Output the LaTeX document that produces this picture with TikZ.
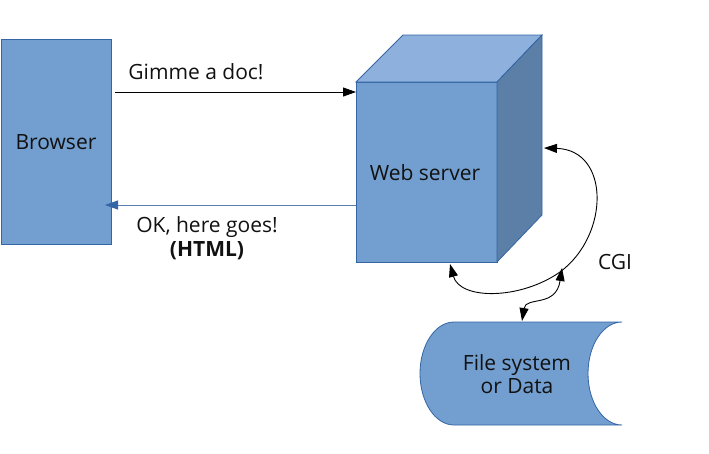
\documentclass[tikz,border=0pt]{standalone}
\usepackage{fontspec}
\setmainfont{Open Sans}
\usetikzlibrary{arrows.meta}
\definecolor{boxfill}{HTML}{729FCF}
\definecolor{topfill}{HTML}{8EB0DC}
\definecolor{sidefill}{HTML}{5B7FA6}
\definecolor{boxline}{HTML}{3465A4}
\definecolor{retline}{HTML}{5A7EB0}
\definecolor{txt}{HTML}{111111}
\begin{document}
\begin{tikzpicture}[x=1pt,y=-1pt,
  every node/.style={font=\fontsize{21}{25}\selectfont, text=txt},
  shapebox/.style={draw=boxline, line width=0.8pt, fill=boxfill},
  plain/.style={inner sep=0pt, outer sep=0pt},
  tip/.style={-{Triangle[length=13pt,width=9pt]}},
  tips/.style={{Triangle[length=13pt,width=9pt]}-{Triangle[length=13pt,width=9pt]}},
  conn/.style={line width=0.9pt, black}
]
\useasboundingbox (0,0) rectangle (709,453);
% Browser
\node[shapebox, plain, minimum width=110pt, minimum height=205pt, anchor=north west] (browser) at (1,39) {};
\node[plain] (browsertxt) at (56,142) {Browser};
% Web server cube
\node[shapebox, plain, minimum width=141pt, minimum height=180pt, anchor=north west] (server) at (356,82) {};
\draw[draw=boxline, line width=0.8pt, fill=topfill] (server.north west) -- ++(47,-47) -- ++(139,0) -- (server.north east) -- cycle;
\draw[draw=boxline, line width=0.8pt, fill=sidefill] (server.north east) -- ++(45,-47) -- ++(0,180) -- (server.south east) -- cycle;
\node[plain] (servertxt) at (425,173) {Web server};
% File system
\coordinate (fsnw) at (454,322);
\draw[shapebox] (fsnw) .. controls (435.2,322) and (420,345.1) .. (420,373.5)
  .. controls (420,401.9) and (435.2,425) .. (454,425) -- (622,425)
  .. controls (603.2,425) and (588,401.9) .. (588,373.5)
  .. controls (588,345.1) and (603.2,322) .. (622,322) -- cycle;
\node[plain, align=center, font=\fontsize{21}{23.5}\selectfont] (fs) at (517,374) {File system\\or Data};
% Request
\coordinate (g1) at (115,92);
\draw[conn, tip] (g1) -- (server.west |- g1);
\node[plain] (gimme) at (196,72) {Gimme a doc!};
% Response
\coordinate (r2) at (105,205);
\draw[line width=0.9pt, draw=retline, -{Triangle[length=13pt,width=9pt,fill=boxline,color=boxline]}] (server.west |- r2) -- (r2);
\node[plain] (ok) at (207,227) {OK, here goes!};
\node[plain, font=\bfseries\fontsize{21}{25}\selectfont] (html) at (207,251) {(HTML)};
% CGI
\coordinate (c1) at (450,264);
\coordinate (c2) at (544,148);
\coordinate (c3) at (562,268);
\coordinate (c4) at (522,321);
\draw[conn, tips] (c1) .. controls (460,300) and (520,300) .. (560,272) .. controls (610,235) and (610,150) .. (c2);
\draw[conn, tips] (c4) .. controls (526,296) and (556,308) .. (c3);
\node[plain] (cgi) at (615,262) {CGI};
\end{tikzpicture}
\end{document}
